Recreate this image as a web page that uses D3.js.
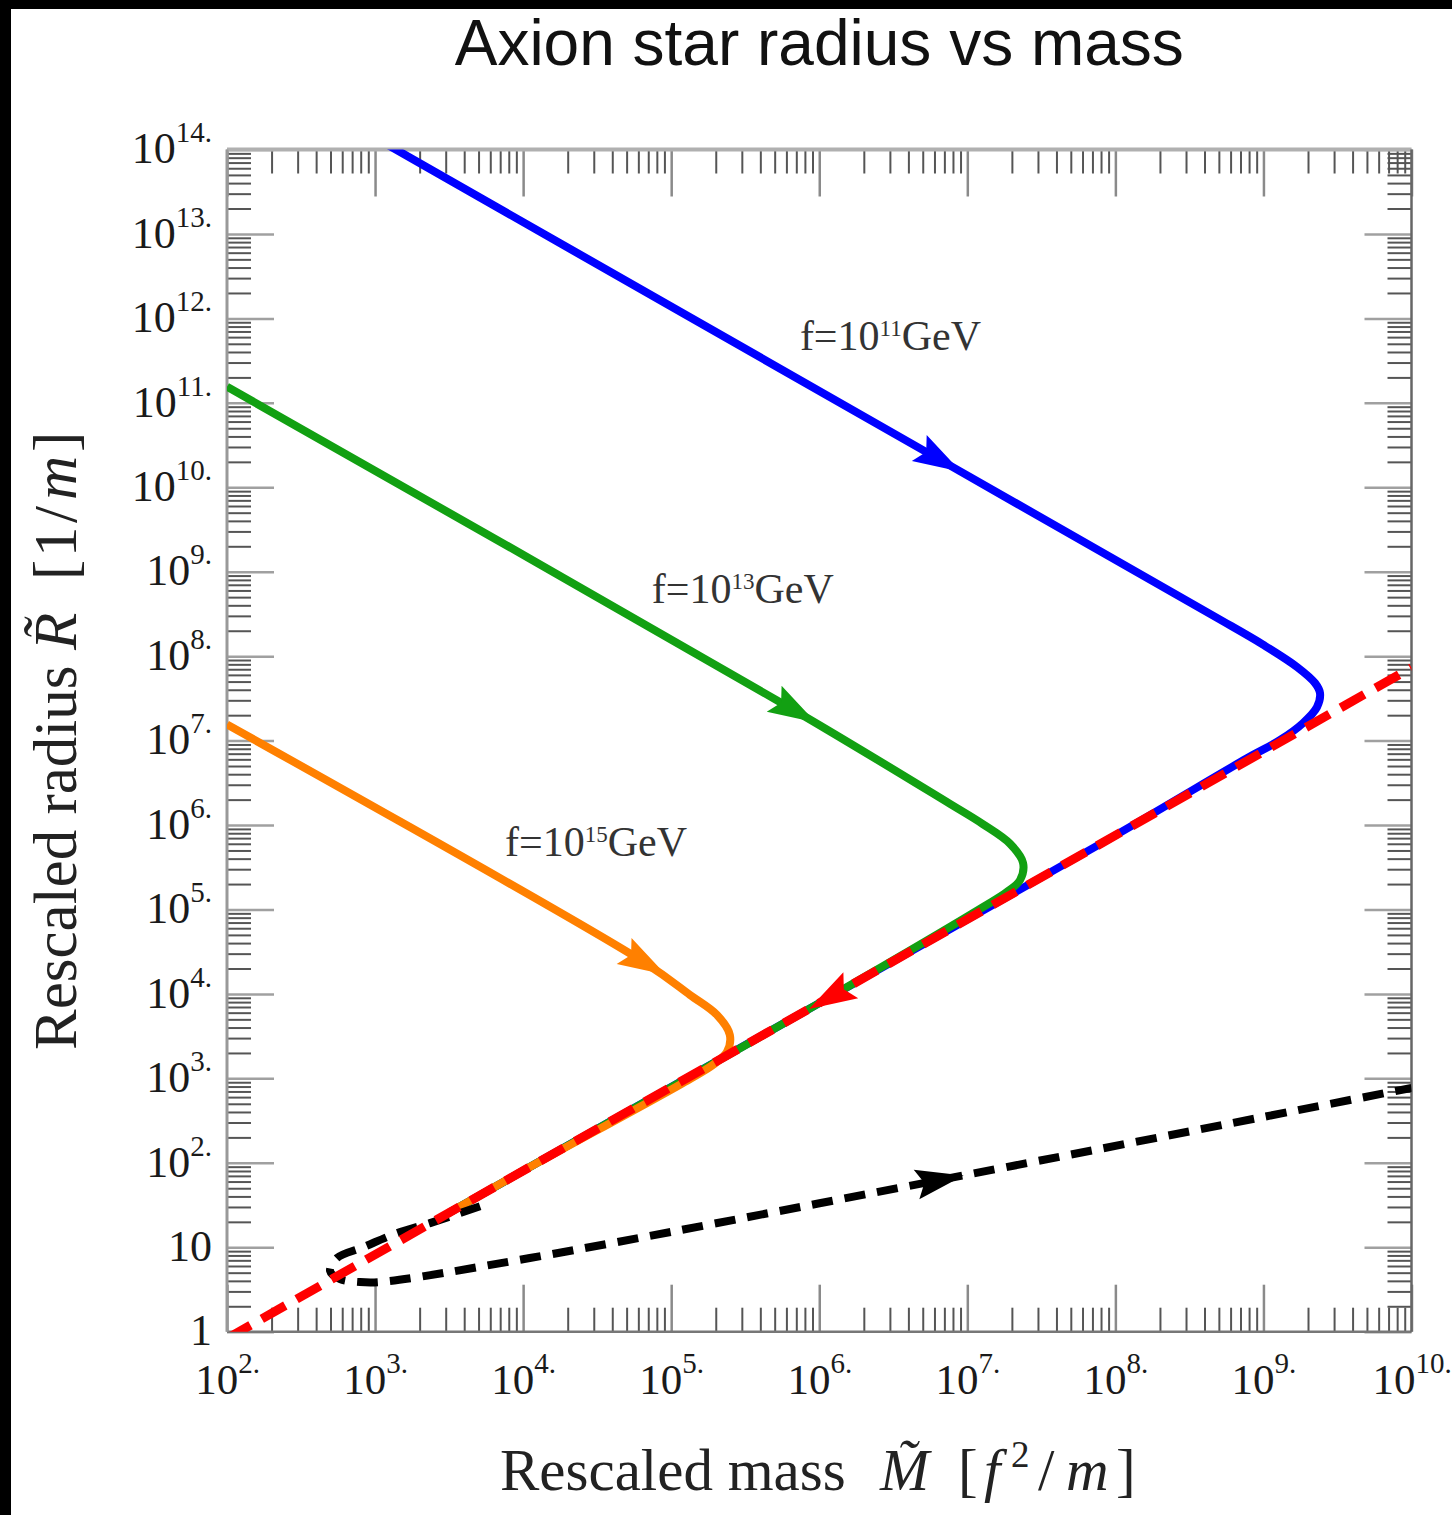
<!DOCTYPE html>
<html>
<head>
<meta charset="utf-8">
<script src="https://cdn.jsdelivr.net/npm/d3@7"></script>
<style>
  body { margin: 0; background: #fff; }
  svg { display: block; }
</style>
</head>
<body>
<svg id="chart" width="1452" height="1515"></svg>
<script>
// ---- axis ranges and tick decades ----
const massDomain = [1e2, 1e10];
const radiusDomain = [1, 1e14];
const massTickExps = [2, 3, 4, 5, 6, 7, 8, 9, 10];
const radiusTickExps = [0, 1, 2, 3, 4, 5, 6, 7, 8, 9, 10, 11, 12, 13, 14];

// ---- tracks: rescaled mass M and rescaled radius R ----
// f = 10^11 GeV
const blueMass   = [1e3, 6.55e6, 4.57e8, 9.93e8, 1.69e9, 2.23e9, 2.41e9, 2.30e9, 1.85e9, 1.29e9, 7.74e8, 1e8, 1e6, 1e4, 3.16e3];
const blueRadius = [1.38e14, 2.11e10, 3.02e8, 1.37e8, 7.43e7, 4.81e7, 3.66e7, 2.49e7, 1.61e7, 1.01e7, 6.17e6, 7.55e5, 7.78e3, 80.4, 25.6];
// f = 10^13 GeV
const greenMass   = [1e2, 6.86e5, 7.64e6, 1.28e7, 1.94e7, 2.38e7, 2.27e7, 1.85e7, 1.28e7, 1e6, 1e4, 3.16e3];
const greenRadius = [1.55e11, 2.26e7, 1.78e6, 1.02e6, 6.03e5, 3.55e5, 2.23e5, 1.61e5, 1.07e5, 7.78e3, 80.4, 25.6];
// f = 10^15 GeV
const orangeMass   = [1e2, 6.65e4, 1.34e5, 2.04e5, 2.49e5, 2.38e5, 1.95e5, 1.34e5, 1e4, 3.16e3];
const orangeRadius = [1.55e7, 2.33e4, 9.73e3, 5.64e3, 3.27e3, 2.06e3, 1.48e3, 9.84e2, 80.4, 25.6];
// common branch (dashed red)
const redMass   = [1e2, 1e10];
const redRadius = [0.83, 7.3e7];
// dense branch (dashed black)
const blackMass   = [5.12e3, 2.35e3, 1.41e3, 8.3e2, 5.53e2, 4.97e2, 5.8e2, 7.9e2, 1.08e3, 1.11e4, 6.55e6, 1e10];
const blackRadius = [30.6, 19.3, 14.7, 10.0, 7.46, 5.24, 4.2, 3.87, 3.87, 7.46, 62.7, 771];

// ---- direction markers on each track ----
const arrowTrack = ["blue", "green", "orange", "red", "black"];
const arrowMass  = [6.55e6, 6.86e5, 6.65e4, 1.18e6, 6.55e6];
const arrowSense = [1, 1, 1, -1, 1];

// ---- curve annotations ----
const labelExps   = [11, 13, 15];
const labelMass   = [7.4e5, 7.4e4, 7.55e3];
const labelRadius = [4.2e11, 4.27e8, 4.27e5];

// ---- layout ----
const W = 1452, H = 1515;
const plot = { left: 227, top: 149.5, right: 1411.5, bottom: 1331.7 };
const serif = "'Liberation Serif', 'Times New Roman', serif";

const svg = d3.select("#chart");
svg.append("rect").attr("width", W).attr("height", H).attr("fill", "#fff");

const x = d3.scaleLog().domain(massDomain).range([plot.left, plot.right]);
const y = d3.scaleLog().domain(radiusDomain).range([plot.bottom, plot.top]);

const zip = (a, b) => a.map((v, i) => [v, b[i]]);
const tracks = {
  blue:   { pts: zip(blueMass, blueRadius),     color: "#0000ff" },
  green:  { pts: zip(greenMass, greenRadius),   color: "#12a012" },
  orange: { pts: zip(orangeMass, orangeRadius), color: "#ff8000" },
  red:    { pts: zip(redMass, redRadius),       color: "#ff0000" },
  black:  { pts: zip(blackMass, blackRadius),   color: "#000000" }
};

// minor ticks: 2..9 within every decade
const minorOf = (exps) => {
  const out = [];
  exps.slice(0, -1).forEach(e => { for (let k = 2; k <= 9; k++) out.push(k * Math.pow(10, e)); });
  return out;
};
const massMajor = massTickExps.map(e => Math.pow(10, e));
const radiusMajor = radiusTickExps.map(e => Math.pow(10, e));
const massMinor = minorOf(massTickExps);
const radiusMinor = minorOf(radiusTickExps);

// ---- frame ticks (all inward) ----
function styleTicks(g, color, width) {
  g.select(".domain").remove();
  g.selectAll(".tick line").attr("stroke", color).attr("stroke-width", width);
}
const axesG = svg.append("g");
const MAJ = 47, MIN = 24;

// minor ticks
axesG.append("g").attr("transform", `translate(0,${plot.bottom})`)
  .call(d3.axisBottom(x).tickValues(massMinor).tickSize(-MIN).tickFormat(""))
  .call(g => styleTicks(g, "#555", 2));
axesG.append("g").attr("transform", `translate(0,${plot.top})`)
  .call(d3.axisTop(x).tickValues(massMinor).tickSize(-MIN).tickFormat(""))
  .call(g => styleTicks(g, "#555", 2));
axesG.append("g").attr("transform", `translate(${plot.left},0)`)
  .call(d3.axisLeft(y).tickValues(radiusMinor).tickSize(-MIN).tickFormat(""))
  .call(g => styleTicks(g, "#555", 2));
axesG.append("g").attr("transform", `translate(${plot.right},0)`)
  .call(d3.axisRight(y).tickValues(radiusMinor).tickSize(-MIN).tickFormat(""))
  .call(g => styleTicks(g, "#555", 2));

// major ticks
const bottomAxis = axesG.append("g").attr("transform", `translate(0,${plot.bottom})`)
  .call(d3.axisBottom(x).tickValues(massMajor).tickSize(-MAJ))
  .call(g => styleTicks(g, "#8a8a8a", 2.5));
axesG.append("g").attr("transform", `translate(0,${plot.top})`)
  .call(d3.axisTop(x).tickValues(massMajor).tickSize(-MAJ).tickFormat(""))
  .call(g => styleTicks(g, "#8a8a8a", 2.5));
const leftAxis = axesG.append("g").attr("transform", `translate(${plot.left},0)`)
  .call(d3.axisLeft(y).tickValues(radiusMajor).tickSize(-MAJ).tickPadding(15))
  .call(g => styleTicks(g, "#a0a0a0", 2.5));
axesG.append("g").attr("transform", `translate(${plot.right},0)`)
  .call(d3.axisRight(y).tickValues(radiusMajor).tickSize(-MAJ).tickFormat(""))
  .call(g => styleTicks(g, "#a0a0a0", 2.5));

// frame lines
axesG.append("line").attr("x1", plot.left).attr("x2", plot.right).attr("y1", plot.top).attr("y2", plot.top)
  .attr("stroke", "#b0b0b0").attr("stroke-width", 4);
axesG.append("line").attr("x1", plot.left).attr("x2", plot.right).attr("y1", plot.bottom).attr("y2", plot.bottom)
  .attr("stroke", "#777").attr("stroke-width", 2.5);
axesG.append("line").attr("x1", plot.left).attr("x2", plot.left).attr("y1", plot.top).attr("y2", plot.bottom)
  .attr("stroke", "#999").attr("stroke-width", 3);
axesG.append("line").attr("x1", plot.right).attr("x2", plot.right).attr("y1", plot.top).attr("y2", plot.bottom)
  .attr("stroke", "#666").attr("stroke-width", 2.5);

// tick labels in the form 10^n.
function powerLabel(textSel, d, small) {
  const e = Math.round(Math.log10(d));
  textSel.text(null);
  if (small && e === 0) { textSel.append("tspan").text("1"); return; }
  if (small && e === 1) { textSel.append("tspan").text("10"); return; }
  textSel.append("tspan").text("10");
  textSel.append("tspan").attr("dy", -21).attr("font-size", 29).text(e + ".");
}
bottomAxis.selectAll(".tick text")
  .attr("y", 62).attr("dy", null)
  .attr("font-family", serif).attr("font-size", 43).attr("fill", "#1a1a1a")
  .each(function (d) { powerLabel(d3.select(this), d, false); });
leftAxis.selectAll(".tick text")
  .attr("dy", "0.3em")
  .attr("font-family", serif).attr("font-size", 44).attr("fill", "#1a1a1a")
  .each(function (d) { powerLabel(d3.select(this), d, true); });

// ---- tracks ----
svg.append("clipPath").attr("id", "plotClip").append("rect")
  .attr("x", plot.left).attr("y", plot.top)
  .attr("width", plot.right - plot.left).attr("height", plot.bottom - plot.top);
const lineGen = d3.line()
  .x(d => x(d[0])).y(d => y(d[1]))
  .curve(d3.curveCatmullRom.alpha(0.5));
const curvesG = svg.append("g").attr("clip-path", "url(#plotClip)");
["blue", "green", "orange"].forEach(k => {
  curvesG.append("path").attr("d", lineGen(tracks[k].pts))
    .attr("fill", "none").attr("stroke", tracks[k].color).attr("stroke-width", 8)
    .attr("stroke-linejoin", "round");
});
curvesG.append("path").attr("d", lineGen(tracks.black.pts))
  .attr("fill", "none").attr("stroke", tracks.black.color).attr("stroke-width", 8)
  .attr("stroke-dasharray", "21,12");
curvesG.append("path").attr("d", lineGen(tracks.red.pts))
  .attr("fill", "none").attr("stroke", tracks.red.color).attr("stroke-width", 9)
  .attr("stroke-dasharray", "27,13");

// ---- arrowheads ----
function locate(pts, m) {
  const X = x(m);
  for (let i = 0; i < pts.length - 1; i++) {
    const ax = x(pts[i][0]), ay = y(pts[i][1]);
    const bx = x(pts[i + 1][0]), by = y(pts[i + 1][1]);
    if ((X - ax) * (X - bx) <= 0 && ax !== bx) {
      const t = (X - ax) / (bx - ax);
      return { px: X, py: ay + t * (by - ay), ang: Math.atan2(by - ay, bx - ax) };
    }
  }
  return null;
}
const L = 48, HW = 15, NOTCH = 8;
const headPath = `M${L / 2},0 L${-L / 2},${-HW} L${-L / 2 + NOTCH},0 L${-L / 2},${HW} Z`;
arrowTrack.forEach((k, i) => {
  const p = locate(tracks[k].pts, arrowMass[i]);
  if (!p) return;
  const ang = (p.ang + (arrowSense[i] < 0 ? Math.PI : 0)) * 180 / Math.PI;
  svg.append("path").attr("d", headPath)
    .attr("transform", `translate(${p.px},${p.py}) rotate(${ang})`)
    .attr("fill", tracks[k].color);
});

// ---- annotations ----
labelExps.forEach((e, i) => {
  const t = svg.append("text")
    .attr("x", x(labelMass[i])).attr("y", y(labelRadius[i]))
    .attr("font-family", serif).attr("font-size", 42).attr("fill", "#333");
  t.append("tspan").text("f=10");
  t.append("tspan").attr("dy", -14).attr("font-size", 23).text(e);
  t.append("tspan").attr("dy", 14).text("GeV");
});

// ---- titles ----
svg.append("text")
  .attr("x", (plot.left + plot.right) / 2).attr("y", 65)
  .attr("text-anchor", "middle")
  .attr("font-family", "'Liberation Sans', Arial, sans-serif").attr("font-size", 64)
  .attr("fill", "#111")
  .text("Axion star radius vs mass");

// horizontal axis title, pieces placed along the baseline
const xt = svg.append("text").attr("y", 1490)
  .attr("font-family", serif).attr("font-size", 59).attr("fill", "#222");
xt.append("tspan").attr("x", 500).text("Rescaled mass");
xt.append("tspan").attr("x", 880).attr("font-style", "italic").text("M\u0303");
xt.append("tspan").attr("x", 958).text("[");
xt.append("tspan").attr("x", 984).attr("font-style", "italic").text("f");
xt.append("tspan").attr("x", 1011).attr("dy", -23).attr("font-size", 37).text("2");
xt.append("tspan").attr("x", 1038).attr("dy", 23).text("/");
xt.append("tspan").attr("x", 1066).attr("font-style", "italic").text("m");
xt.append("tspan").attr("x", 1116).text("]");

// vertical axis title, pieces placed upward from the bottom
const yt = svg.append("text")
  .attr("transform", "translate(76,0) rotate(-90)")
  .attr("font-family", serif).attr("font-size", 61).attr("fill", "#222");
yt.append("tspan").attr("x", -1050).text("Rescaled radius");
yt.append("tspan").attr("x", -650).attr("font-style", "italic").text("R\u0303");
yt.append("tspan").attr("x", -580).text("[");
yt.append("tspan").attr("x", -557).text("1");
yt.append("tspan").attr("x", -523).text("/");
yt.append("tspan").attr("x", -500).attr("font-style", "italic").text("m");
yt.append("tspan").attr("x", -452).text("]");

// ---- black border strips ----
svg.append("rect").attr("x", 0).attr("y", 0).attr("width", W).attr("height", 9).attr("fill", "#000");
svg.append("rect").attr("x", 0).attr("y", 0).attr("width", 11).attr("height", H).attr("fill", "#000");
</script>
</body>
</html>
